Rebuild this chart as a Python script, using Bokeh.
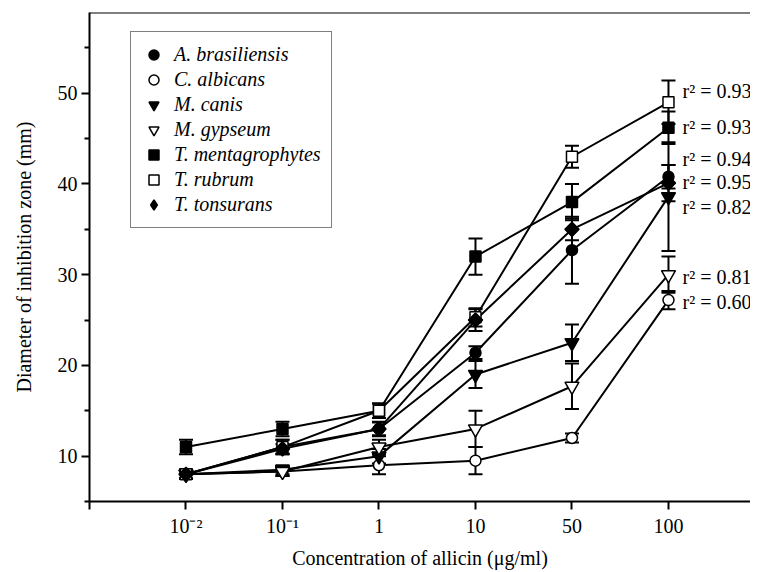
import numpy as np
from bokeh.plotting import figure
from bokeh.models import (ColumnDataSource, Whisker, TeeHead, FixedTicker, Range1d,
                          Legend, LegendItem, Span)
from bokeh.core.properties import value
from bokeh.embed import file_html
from bokeh.resources import INLINE

# ---------------- data ----------------
categories = ["10\u207b\u00b2", "10\u207b\u00b9", "1", "10", "50", "100"]
species = ["A. brasiliensis", "C. albicans", "M. canis", "M. gypseum",
           "T. mentagrophytes", "T. rubrum", "T. tonsurans"]

a_brasiliensis = [8.0, 11.0, 13.0, 21.4, 32.7, 40.8]
c_albicans = [8.0, 8.3, 9.0, 9.5, 12.0, 27.2]
m_canis = [8.0, 8.5, 10.0, 19.0, 22.5, 38.6]
m_gypseum = [8.0, 8.3, 11.0, 13.0, 17.7, 30.0]
t_mentagrophytes = [11.0, 13.0, 15.0, 32.0, 38.0, 46.2]
t_rubrum = [8.0, 11.0, 15.0, 25.3, 43.0, 49.0]
t_tonsurans = [8.0, 10.8, 13.0, 25.0, 35.0, 40.1]

a_brasiliensis_err = [0.5, 0.8, 0.7, 0.7, 3.7, 1.3]
c_albicans_err = [0.5, 0.5, 1.0, 1.5, 0.5, 1.0]
m_canis_err = [0.5, 0.5, 0.8, 1.5, 2.0, 6.0]
m_gypseum_err = [0.5, 0.5, 0.8, 2.0, 2.5, 2.0]
t_mentagrophytes_err = [0.8, 0.8, 0.8, 2.0, 2.0, 1.8]
t_rubrum_err = [0.5, 0.8, 0.8, 1.0, 1.2, 2.4]
t_tonsurans_err = [0.5, 0.5, 0.8, 1.2, 1.2, 2.0]

r_squared = [0.93, 0.93, 0.94, 0.95, 0.82, 0.81, 0.60]
r_squared_label_y = [50.2, 46.3, 42.8, 40.2, 37.5, 29.8, 27.0]

y_ticks = [10, 20, 30, 40, 50]
y_minor_ticks = [5, 15, 25, 35, 45, 55]

series_values = [a_brasiliensis, c_albicans, m_canis, m_gypseum,
                 t_mentagrophytes, t_rubrum, t_tonsurans]
series_errors = [a_brasiliensis_err, c_albicans_err, m_canis_err, m_gypseum_err,
                 t_mentagrophytes_err, t_rubrum_err, t_tonsurans_err]

# ---------------- styles ----------------
FONT = "Liberation Serif"
styles = [
    dict(marker="circle", fill="black", size=11, angle=0.0),
    dict(marker="circle", fill="white", size=11, angle=0.0),
    dict(marker="inverted_triangle", fill="black", size=14, angle=0.0),
    dict(marker="inverted_triangle", fill="white", size=14, angle=0.0),
    dict(marker="square", fill="black", size=11, angle=0.0),
    dict(marker="square", fill="white", size=11, angle=0.0),
    dict(marker="square", fill="black", size=10, angle=np.pi / 4),
]

x_idx = list(range(len(categories)))

p = figure(frame_width=661, frame_height=489,
           min_border_left=89, min_border_right=0, min_border_top=12,
           min_border_bottom=55,
           x_range=Range1d(-1, 5.85), y_range=Range1d(5, 58.9),
           output_backend="svg", toolbar_location=None,
           background_fill_color="white", border_fill_color="white")
p.grid.visible = False
p.outline_line_color = None

# top frame line
p.add_layout(Span(location=58.9, dimension="width", line_color="black", line_width=2))

# axes
xa = p.xaxis[0]
xa.ticker = FixedTicker(ticks=[-1] + x_idx, minor_ticks=[])
overrides = {i: c for i, c in zip(x_idx, categories)}
overrides[-1] = ""
xa.major_label_overrides = overrides
xa.axis_label = "Concentration of allicin (\u03bcg/ml)"

ya = p.yaxis[0]
ya.ticker = FixedTicker(ticks=y_ticks, minor_ticks=y_minor_ticks)
ya.axis_label = "Diameter of inhibition zone (mm)"

for ax in (xa, ya):
    ax.axis_line_color = "black"
    ax.axis_line_width = 2
    ax.major_tick_line_color = "black"
    ax.major_tick_line_width = 2
    ax.minor_tick_line_color = "black"
    ax.minor_tick_line_width = 2
    ax.major_tick_in = 0
    ax.major_tick_out = 8
    ax.minor_tick_in = 0
    ax.minor_tick_out = 5
    ax.major_label_text_font = FONT
    ax.major_label_text_font_size = "20px"
    ax.major_label_text_color = "black"
    ax.axis_label_text_font = FONT
    ax.axis_label_text_font_size = "20px"
    ax.axis_label_text_font_style = "normal"
    ax.axis_label_text_color = "black"

xa.major_label_standoff = 5
xa.axis_label_standoff = 7
ya.major_label_standoff = 4
ya.axis_label_standoff = 20

# lines and error bars
for vals, errs in zip(series_values, series_errors):
    src = ColumnDataSource(dict(
        x=x_idx, y=vals,
        upper=[v + e for v, e in zip(vals, errs)],
        lower=[v - e for v, e in zip(vals, errs)]))
    p.line("x", "y", source=src, line_color="black", line_width=2)
    w = Whisker(source=src, base="x", upper="upper", lower="lower",
                line_color="black", line_width=2,
                upper_head=TeeHead(size=14, line_color="black", line_width=2),
                lower_head=TeeHead(size=14, line_color="black", line_width=2))
    p.add_layout(w)

# markers
items = []
for name, vals, st in zip(species, series_values, styles):
    src = ColumnDataSource(dict(x=x_idx, y=vals))
    legend_r = None
    if st["angle"] != 0.0:
        # plain diamond hidden under the rotated square; it supplies the legend symbol
        legend_r = p.scatter("x", "y", source=src, marker="diamond", size=13,
                             fill_color=st["fill"], line_color="black", line_width=1.5)
    r = p.scatter("x", "y", source=src, marker=st["marker"], size=st["size"],
                  angle=st["angle"], fill_color=st["fill"], line_color="black",
                  line_width=1.5)
    items.append(LegendItem(label=name, renderers=[legend_r if legend_r is not None else r]))

legend = Legend(items=items, location=(41, 273))
legend.label_text_font = FONT
legend.label_text_font_style = "italic"
legend.label_text_font_size = "20px"
legend.label_text_color = "black"
legend.label_height = 25
legend.glyph_height = 25
legend.glyph_width = 25
legend.label_standoff = 8
legend.spacing = 0
legend.padding = 10
legend.border_line_color = "black"
legend.border_line_width = 1.5
legend.background_fill_color = "white"
legend.background_fill_alpha = 1.0
p.add_layout(legend, "center")

# r^2 annotations
p.text(x=[x_idx[-1]] * len(r_squared), y=r_squared_label_y,
       text=["r\u00b2 = %.2f" % v for v in r_squared],
       x_offset=14, text_baseline="middle", text_align="left",
       text_font=value(FONT), text_font_size="20px", text_color="black")

open("out.html", "w").write(file_html(p, INLINE))
